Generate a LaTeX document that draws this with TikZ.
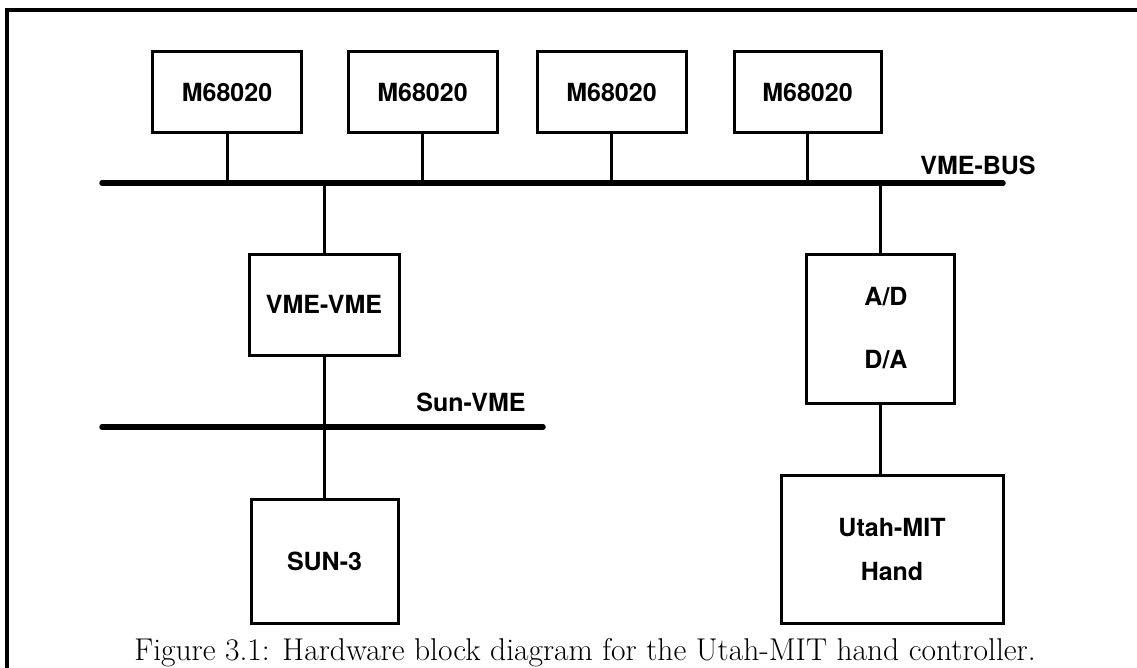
\documentclass[tikz,border=0pt]{standalone}
\usepackage{fontspec}
\setsansfont{TeX Gyre Heros}
\usetikzlibrary{positioning,calc}
\tikzset{
  hwb/.style={draw=black, line width=3pt, inner sep=0pt, align=center,
    font=\sffamily\bfseries\fontsize{25}{44}\selectfont},
  busl/.style={line width=5.5pt, line cap=round},
  link/.style={line width=3pt},
  buslab/.style={font=\sffamily\bfseries\fontsize{25}{30}\selectfont, inner sep=0pt},
  capt/.style={font=\fontsize{31.5}{36}\selectfont, inner sep=0pt},
}

\begin{document}
\begin{tikzpicture}[x=1pt,y=-1pt]
    \useasboundingbox (0,0) rectangle (1137,667);
    % outer frame (cut off at bottom and right)
    \coordinate (fbl) at (7,675);
    \coordinate (ftl) at (7,10);
    \coordinate (ftr) at (1145,10);
    \draw[line width=3.5pt] (fbl) -- (ftl) -- (ftr);

    % processors on the VME bus
    \node[hwb, minimum width=149pt, minimum height=81pt] (cpu1) at (227,92) {M68020};
    \node[hwb, minimum width=149pt, minimum height=81pt] (cpu2) at (422.5,92) {M68020};
    \node[hwb, minimum width=149pt, minimum height=81pt] (cpu3) at (611.5,92) {M68020};
    \node[hwb, minimum width=147pt, minimum height=81pt] (cpu4) at (807.5,92) {M68020};

    \coordinate (vmeL) at (102,183);
    \coordinate (vmeR) at (1003,183);
    \draw[busl] (vmeL) -- (vmeR);
    \node[buslab] (vmelab) at (978,165) {VME-BUS};

    \draw[link] (cpu1.south) -- (cpu1.south |- vmeL);
    \draw[link] (cpu2.south) -- (cpu2.south |- vmeL);
    \draw[link] (cpu3.south) -- (cpu3.south |- vmeL);
    \draw[link] (cpu4.south) -- (cpu4.south |- vmeL);

    % left branch: bus adaptor and host
    \node[hwb, minimum width=150pt, minimum height=101pt] (vmevme) at (324,304.5) {VME-VME};
    \draw[link] (vmevme.north) -- (vmevme.north |- vmeL);

    \coordinate (sunL) at (102,427);
    \coordinate (sunR) at (543,427);
    \draw[busl] (sunL) -- (sunR);
    \node[buslab] (sunlab) at (471,402) {Sun-VME};
    \draw[link] (vmevme.south) -- (vmevme.south |- sunL);

    \node[hwb, minimum width=147pt, minimum height=124pt] (sun3) at (324.5,561) {SUN-3};
    \draw[link] (sun3.north) -- (sun3.north |- sunL);

    % right branch: converters and hand
    \node[hwb, minimum width=148pt, minimum height=149pt] (adda) at (880,328.5)
      {\hspace*{12pt}A/D\\[19pt]\hspace*{12pt}D/A};
    \draw[link] (adda.north) -- (adda.north |- vmeL);

    \node[hwb, minimum width=222pt, minimum height=148pt] (hand) at (892,549)
      {Utah-MIT\\Hand};
    \draw[link] (adda.south) -- (adda.south |- hand.north);

    \node[capt] (cap) at (585,653)
      {Figure 3.1: Hardware block diagram for the Utah-MIT hand controller.};
\end{tikzpicture}
\end{document}
